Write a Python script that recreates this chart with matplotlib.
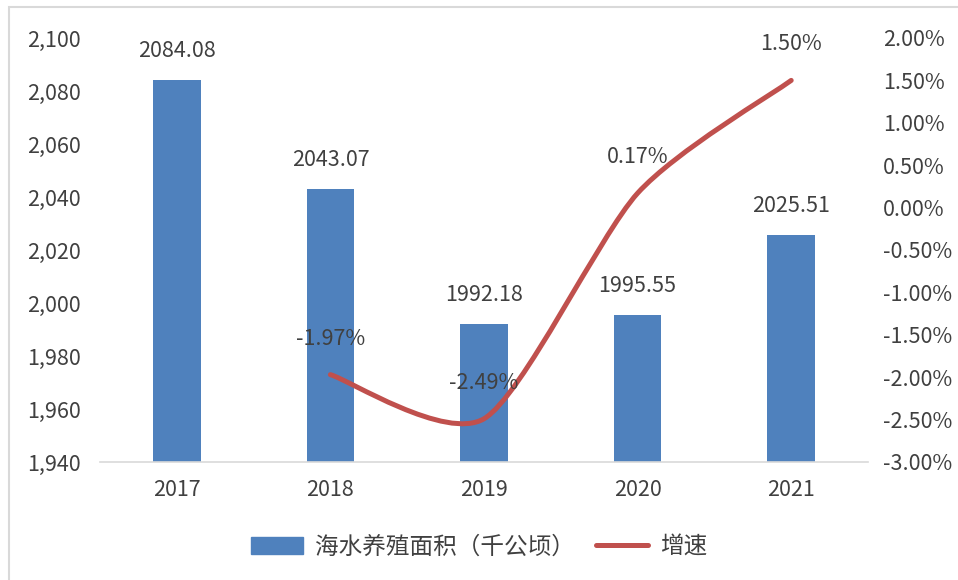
import numpy as np
import matplotlib
matplotlib.use('Agg')
import matplotlib.pyplot as plt
from matplotlib.path import Path
from matplotlib.patches import PathPatch, Rectangle
from matplotlib.lines import Line2D
from matplotlib.ticker import FuncFormatter, MultipleLocator

plt.rcParams['font.family'] = ['Noto Sans CJK SC', 'DejaVu Sans']

years = ['2017', '2018', '2019', '2020', '2021']
area = [2084.08, 2043.07, 1992.18, 1995.55, 2025.51]
growth_years = ['2018', '2019', '2020', '2021']
growth = [-1.97, -2.49, 0.17, 1.50]
area_label = '海水养殖面积（千公顷）'
growth_label = '增速'

blue = '#4F81BD'
red = '#C0504D'
txt = '#404040'
fs = 15.5

fig = plt.figure(figsize=(9.58, 5.8), dpi=100)
ax = fig.add_axes([100/958, 1-462/580, 768/958, 424/580])

x = np.arange(len(years))
ax.bar(x, area, width=0.31, color=blue, zorder=2)
ax.set_xlim(-0.5, len(years)-0.5)
ax.set_ylim(1940, 2100)
ax.yaxis.set_major_locator(MultipleLocator(20))
ax.yaxis.set_major_formatter(FuncFormatter(lambda v, p: f'{v:,.0f}'))
ax.set_xticks(x)
ax.set_xticklabels(years)
for s in ['top', 'left', 'right']:
    ax.spines[s].set_visible(False)
ax.spines['bottom'].set_color('#d9d9d9')
ax.spines['bottom'].set_linewidth(1.2)
ax.tick_params(length=0, labelsize=fs, colors=txt)
ax.tick_params(axis='y', pad=14)
ax.tick_params(axis='x', pad=12)
for xi, v in zip(x, area):
    ax.annotate(f'{v:.2f}', (xi, v), xytext=(0, 21), textcoords='offset points',
                ha='center', va='center', fontsize=fs, color=txt)

ax2 = ax.twinx()
ax2.set_ylim(-3.0, 2.0)
ax2.yaxis.set_major_locator(MultipleLocator(0.5))
ax2.yaxis.set_major_formatter(FuncFormatter(lambda v, p: f'{v:.2f}%'))
for s in ax2.spines.values():
    s.set_visible(False)
ax2.tick_params(length=0, labelsize=fs, colors=txt, pad=11)

# smooth line (Excel-style bezier through the points)
gx = np.array([years.index(y) for y in growth_years], dtype=float)
gy = np.array(growth)
P = np.column_stack([gx, gy])
n = len(P)
verts = [P[0]]
codes = [Path.MOVETO]
for i in range(n-1):
    p0 = P[max(i-1, 0)]
    p1 = P[i]
    p2 = P[i+1]
    p3 = P[min(i+2, n-1)]
    verts += [p1 + (p2-p0)/8, p2 - (p3-p1)/8, p2]
    codes += [Path.CURVE4]*3
ax2.add_patch(PathPatch(Path(verts, codes), facecolor='none', edgecolor=red,
                        lw=3.6, capstyle='round', zorder=3))
for xi, v in zip(gx, gy):
    ax2.annotate(f'{v:.2f}%', (xi, v), xytext=(0, 26), textcoords='offset points',
                 ha='center', va='center', fontsize=fs, color=txt)

handles = [Rectangle((0, 0), 1, 1, color=blue),
           Line2D([], [], color=red, lw=3.6, solid_capstyle='round')]
fig.legend(handles, [area_label, growth_label], loc='center', bbox_to_anchor=(0.5, 1-547/580),
           ncol=2, frameon=False, fontsize=17, labelcolor=txt, handlelength=2.2,
           handleheight=0.7, columnspacing=0.9, handletextpad=0.5)

fig.patches.append(Rectangle((9/958, -0.1), 1.2, 1-7/580+0.1, transform=fig.transFigure,
                             fill=False, edgecolor='#d9d9d9', lw=1.5))

fig.savefig('out.png', dpi=100)
